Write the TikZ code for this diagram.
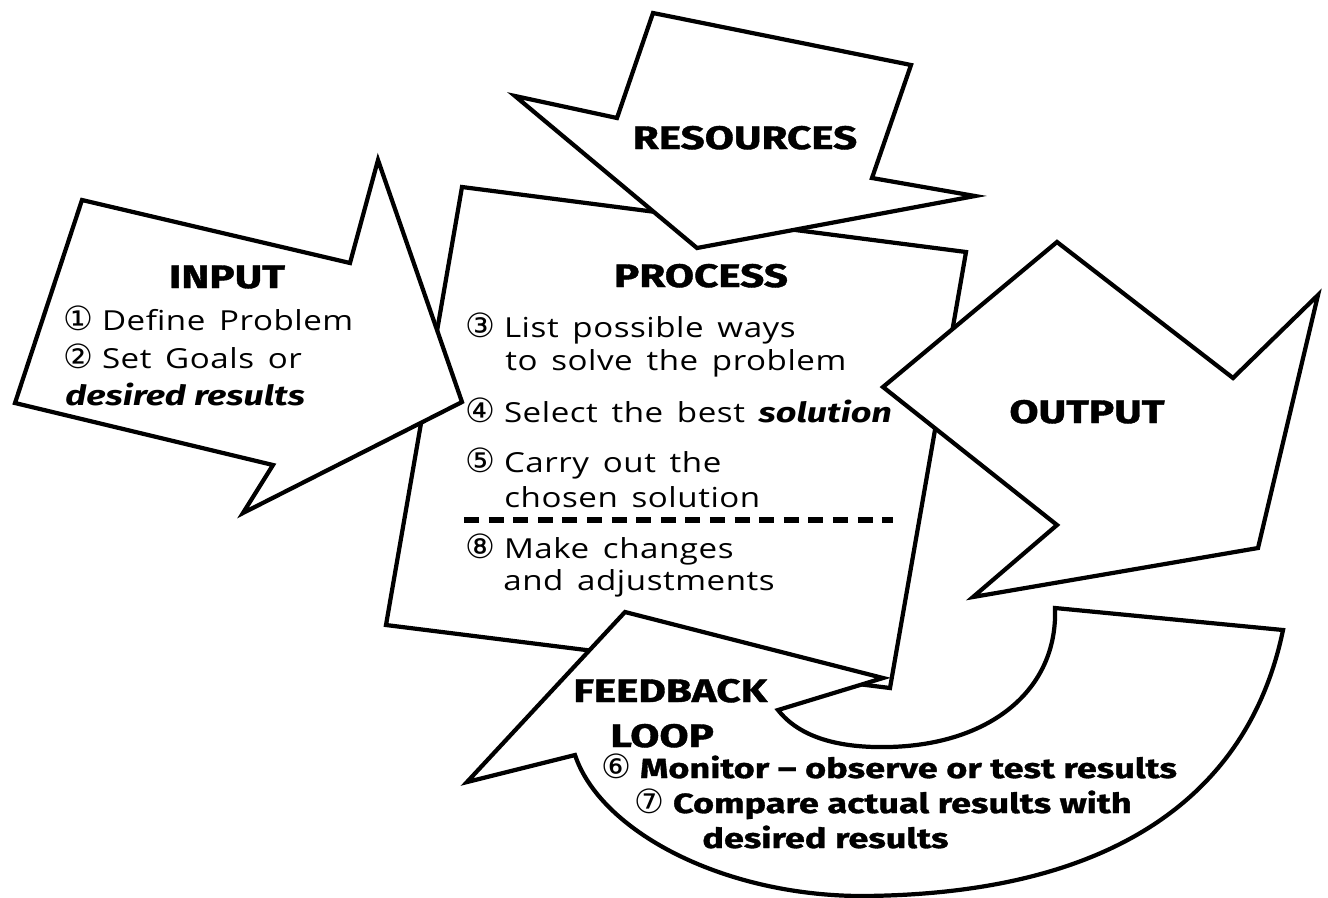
\documentclass[tikz,border=0pt]{standalone}
\usepackage{fontspec}
\newfontfamily\headfont[FakeStretch=1.3,BoldFeatures={FakeBold=1.2}]{Fira Sans}
\newfontfamily\bodyfont[FakeStretch=1.2,WordSpace=1.5,LetterSpace=2]{Open Sans}
\newfontfamily\numfont{DejaVu Sans}
\newcommand{\stepnum}[1]{\makebox[22pt][l]{\numfont\mdseries\upshape\fontsize{19}{19}\selectfont\raisebox{-0.5pt}{#1}}}
\newcommand{\loudword}[1]{{\headfont\bfseries\itshape\fontsize{15.8}{18}\selectfont #1}}

\begin{document}
\begin{tikzpicture}[x=0.02cm, y=-0.02cm,
    % define styles
    panel/.style={
      % The border:
      draw=black, line width=2.4pt, line join=miter,
      % The filling:
      fill=white
    },
    headtext/.style={
      font=\headfont\bfseries\fontsize{18.5}{20}\selectfont,
      inner sep=0pt, anchor=base
    },
    bodytext/.style={
      font=\bodyfont\fontsize{15.7}{17}\selectfont,
      inner sep=0pt, anchor=base west
    },
    fbtext/.style={
      font=\headfont\bfseries\fontsize{15.8}{18}\selectfont,
      inner sep=0pt, anchor=base west
    },
    divider/.style={
      line width=3.2pt, dash pattern=on 8.5pt off 5.5pt
    }]
  % end of style definition

  \fill[white] (0,0) rectangle (1328,897);
  \useasboundingbox (0,0) rectangle (1328,897);

  % draw shapes
  % process box
  \draw[panel] (462,187) -- (966,252) -- (890,688) -- (386,625) -- cycle;
  % resources arrow
  \draw[panel] (653,13) -- (911,65) -- (872,178) -- (975,196) -- (697,248)
    -- (515,96) -- (617,118) -- cycle;
  % input arrow
  \draw[panel] (82,200) -- (350,263) -- (378,160) -- (462,402) -- (243,513)
    -- (273,465) -- (15,403) -- cycle;
  % output arrow
  \draw[panel] (1057,242) -- (1233,378) -- (1318,295) -- (1258,548)
    -- (973,597) -- (1057,525) -- (883,387) -- cycle;
  % feedback loop arrow
  \draw[panel] (625,612) -- (883,678) -- (778,710)
    .. controls (800,738) and (840,748) .. (888,747)
    .. controls (990,745) and (1058,690) .. (1055,608)
    -- (1283,630)
    .. controls (1250,790) and (1120,895) .. (860,896)
    .. controls (720,895) and (600,830) .. (575,755)
    -- (467,782) -- cycle;

  % draw texts
  \node[headtext] (tInput) at (227,288) {INPUT};
  \node[bodytext] (step1) at (63,330) {\stepnum{①}Define Problem};
  \node[bodytext] (step2) at (63,368) {\stepnum{②}Set Goals or};
  \node[bodytext] (step2b) at (65,405) {\loudword{desired results}};

  \node[headtext] (tResources) at (745,149) {RESOURCES};

  \node[headtext] (tProcess) at (701,287) {PROCESS};
  \node[bodytext] (step3) at (465,337) {\stepnum{③}List possible ways};
  \node[bodytext] (step3b) at (505,370) {to solve the problem};
  \node[bodytext] (step4) at (465,422) {\stepnum{④}Select the best \loudword{solution}};
  \node[bodytext] (step5) at (465,472) {\stepnum{⑤}Carry out the};
  \node[bodytext] (step5b) at (504,507) {chosen solution};
  \coordinate (divL) at (464,520);
  \coordinate (divR) at (893,520);
  \draw[divider] (divL) -- (divR);
  \node[bodytext] (step8) at (465,558) {\stepnum{⑧}Make changes};
  \node[bodytext] (step8b) at (503,590) {and adjustments};

  \node[headtext] (tOutput) at (1087,423) {OUTPUT};

  \node[headtext, anchor=base west] (tFeedback) at (573,702) {FEEDBACK};
  \node[headtext, anchor=base west] (tLoop) at (610,747) {LOOP};
  \node[fbtext] (step6) at (601,778) {\stepnum{⑥}Monitor – observe or test results};
  \node[fbtext] (step7) at (634,813) {\stepnum{⑦}Compare actual results with};
  \node[fbtext] (step7b) at (702,848) {desired results};
\end{tikzpicture}
\end{document}
